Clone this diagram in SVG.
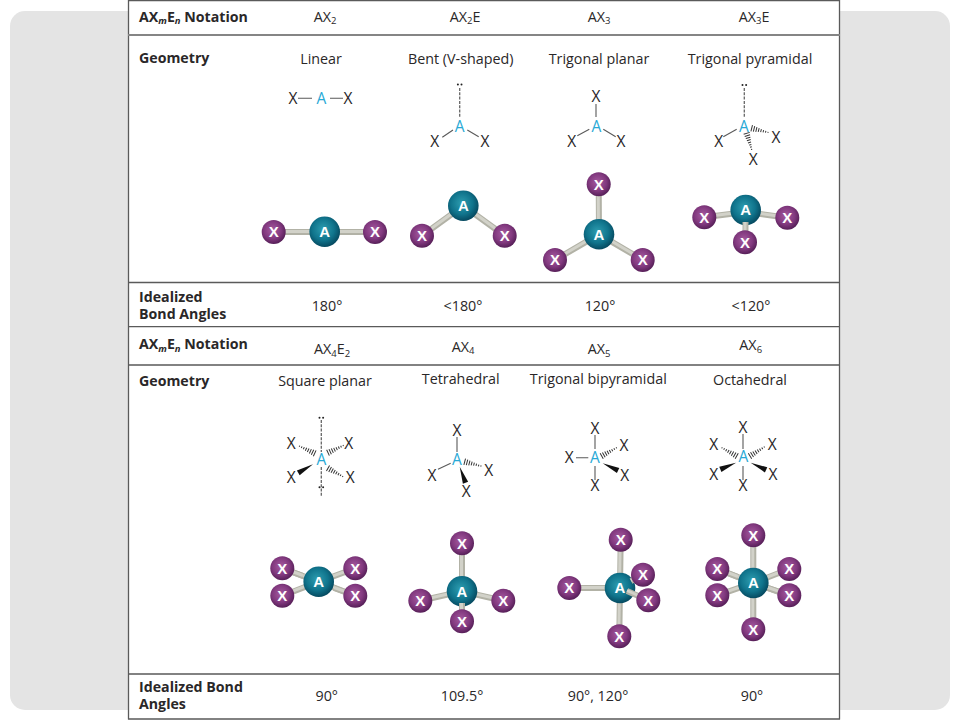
<svg xmlns="http://www.w3.org/2000/svg" xmlns:xlink="http://www.w3.org/1999/xlink" width="960" height="720" viewBox="0 0 960 720">
<style>
text{font-family:"Open Sans","Noto Sans","Liberation Sans",sans-serif;fill:#2a2728}
.h{font-size:14.200px;font-weight:700}
.c{font-size:14.300px;text-anchor:middle}
.s{font-size:9.500px}
.l{font-size:15.500px;text-anchor:middle}
.la{font-size:15.500px;text-anchor:middle;fill:#29a9d6}
.ax{fill:url(#gx)}
.aa{fill:url(#ga)}
.tx{font-size:15px;font-weight:700;fill:#fff;text-anchor:middle;font-family:"Liberation Sans",sans-serif}
.b1{stroke:#b2b2a6;stroke-width:6;fill:none}
.b2{stroke:#d2d2c9;stroke-width:3;fill:none}
.ln{stroke:#5a5a5a;stroke-width:1.100;fill:none}
.dl{stroke:#666;stroke-width:1.300;stroke-dasharray:3 1.300;fill:none}
.rule{stroke:#5a5a5a;stroke-width:1.300}
.lp{fill:#222}
</style>
<defs>
<radialGradient id="ga" cx="45%" cy="42%" r="60%"><stop offset="0" stop-color="#2d9db0"/><stop offset=".6" stop-color="#10748c"/><stop offset="1" stop-color="#05465c"/></radialGradient>
<radialGradient id="gx" cx="45%" cy="42%" r="60%"><stop offset="0" stop-color="#a55a9f"/><stop offset=".6" stop-color="#82397f"/><stop offset="1" stop-color="#531d55"/></radialGradient>
<g id="hash" stroke="#333" stroke-width="1"><path d="M0-3.200V3.200M2.400-2.800V2.800M4.800-2.400V2.400M7.200-2V2M9.600-1.600V1.600M12-1.200V1.200M14.400-.9V.9M16.800-.6V.6"/></g>
<polygon id="wedge" points="0,0 17,-2.800 17,2.800" fill="#111"/>
<g id="pair"><circle class="lp" cx="-1.800" cy="0" r="1"/><circle class="lp" cx="1.800" cy="0" r="1"/></g>
</defs>
<rect width="960" height="720" fill="#fff"/>
<rect x="10" y="11" width="940" height="699" rx="15" fill="#e4e4e4"/>
<rect x="128" y="0" width="712" height="719.500" fill="#fff"/>
<g id="table">
<path class="rule" d="M128.500 0V719.500M839.500 0V719.500M128 .7H840M128 282.500H840M128 326.700H840M128 365H840M128 674H840M128 719H840"/>
<path d="M128 35H840" stroke="#858585" stroke-width="2"/>
</g>
<g id="labels">
<text class="h" x="139" y="21.500">AX<tspan class="s" font-style="italic" dy="2.500">m</tspan><tspan dy="-2.500">E</tspan><tspan class="s" font-style="italic" dy="2.500">n</tspan><tspan dy="-2.500"> Notation</tspan></text>
<text class="h" x="139" y="63">Geometry</text>
<text class="h" x="139" y="301.500">Idealized</text>
<text class="h" x="139" y="319">Bond Angles</text>
<text class="h" x="139" y="349.300">AX<tspan class="s" font-style="italic" dy="2.500">m</tspan><tspan dy="-2.500">E</tspan><tspan class="s" font-style="italic" dy="2.500">n</tspan><tspan dy="-2.500"> Notation</tspan></text>
<text class="h" x="139" y="386">Geometry</text>
<text class="h" x="139" y="691.700">Idealized Bond</text>
<text class="h" x="139" y="709.300">Angles</text>
<text class="c" x="325" y="21.500">AX<tspan class="s" dy="2.500">2</tspan></text>
<text class="c" x="465" y="21.500">AX<tspan class="s" dy="2.500">2</tspan><tspan dy="-2.500">E</tspan></text>
<text class="c" x="599" y="21.500">AX<tspan class="s" dy="2.500">3</tspan></text>
<text class="c" x="754" y="21.500">AX<tspan class="s" dy="2.500">3</tspan><tspan dy="-2.500">E</tspan></text>
<text class="c" x="321" y="64">Linear</text>
<text class="c" x="460.700" y="64">Bent (V-shaped)</text>
<text class="c" x="599" y="64">Trigonal planar</text>
<text class="c" x="750" y="64">Trigonal pyramidal</text>
<text class="c" x="327" y="311">180°</text>
<text class="c" x="463" y="311">&lt;180°</text>
<text class="c" x="600" y="311">120°</text>
<text class="c" x="751" y="311">&lt;120°</text>
<text class="c" x="332" y="354">AX<tspan class="s" dy="2.500">4</tspan><tspan dy="-2.500">E</tspan><tspan class="s" dy="2.500">2</tspan></text>
<text class="c" x="463" y="351.700">AX<tspan class="s" dy="2.500">4</tspan></text>
<text class="c" x="599" y="354">AX<tspan class="s" dy="2.500">5</tspan></text>
<text class="c" x="750.700" y="350">AX<tspan class="s" dy="2.500">6</tspan></text>
<text class="c" x="325" y="386">Square planar</text>
<text class="c" x="460.700" y="384">Tetrahedral</text>
<text class="c" x="598.300" y="384">Trigonal bipyramidal</text>
<text class="c" x="750" y="384.700">Octahedral</text>
<text class="c" x="326.700" y="701">90°</text>
<text class="c" x="462" y="701">109.5°</text>
<text class="c" x="598" y="701">90°, 120°</text>
<text class="c" x="752" y="701">90°</text>
</g>
<g id="lewis-linear">
<path class="ln" d="M298 98.300H312M330 98.300H343"/>
<text class="l" x="293" y="103.800">X</text><text class="la" x="321.300" y="103.800">A</text><text class="l" x="348" y="103.800">X</text>
</g>
<g id="lewis-bent">
<path class="dl" d="M459.700 88V118"/><path class="ln" d="M442.300 137.300L453 130M467.300 130L478.700 136.700"/>
<use xlink:href="#pair" href="#pair" x="459.700" y="84.500"/>
<text class="la" x="459.700" y="131.500">A</text><text class="l" x="434.700" y="147.200">X</text><text class="l" x="485" y="147.200">X</text>
</g>
<g id="lewis-trigonal">
<path class="ln" d="M596 104V117M577.300 135.700L589.300 129.300M603.300 129.300L615.700 136.700"/>
<text class="l" x="596" y="102.200">X</text><text class="la" x="596.300" y="131.500">A</text><text class="l" x="571.700" y="147.200">X</text><text class="l" x="621" y="147.200">X</text>
</g>
<g id="lewis-pyramidal">
<path class="dl" d="M744.300 88V117"/><path class="ln" d="M723.300 136.700L736.700 129.300"/>
<use xlink:href="#hash" href="#hash" transform="translate(751.700 128.300) rotate(14)"/>
<use xlink:href="#hash" href="#hash" transform="translate(746.700 133.300) rotate(73)"/>
<use xlink:href="#pair" href="#pair" x="744.300" y="85"/>
<text class="la" x="744" y="131.500">A</text><text class="l" x="718.700" y="147.200">X</text><text class="l" x="776" y="142.800">X</text><text class="l" x="753.300" y="164.500">X</text>
</g>
<g id="lewis-square">
<path class="dl" d="M321.300 420V452M321.300 467V496.500"/>
<use xlink:href="#hash" href="#hash" transform="translate(314.700 453.300) rotate(205)"/>
<use xlink:href="#hash" href="#hash" transform="translate(328 452.700) rotate(-25)"/>
<use xlink:href="#hash" href="#hash" transform="translate(328 468.300) rotate(29)"/>
<use xlink:href="#wedge" href="#wedge" transform="translate(313 464.300) rotate(150)"/>
<use xlink:href="#pair" href="#pair" x="321.300" y="417.700"/><use xlink:href="#pair" href="#pair" x="321.300" y="487.300"/>
<text class="la" x="321.300" y="464.800">A</text><text class="l" x="291.300" y="448.800">X</text><text class="l" x="348.700" y="448.800">X</text><text class="l" x="291.300" y="482.800">X</text><text class="l" x="350.300" y="482.800">X</text>
</g>
<g id="lewis-tetrahedral">
<path class="ln" d="M457 437V452M438 469.300L450.700 463.300"/>
<use xlink:href="#hash" href="#hash" transform="translate(464.700 461.700) rotate(15)"/>
<use xlink:href="#wedge" href="#wedge" transform="translate(459.700 466.700) rotate(70)"/>
<text class="l" x="457" y="435.500">X</text><text class="la" x="457" y="464.800">A</text><text class="l" x="432" y="480.500">X</text><text class="l" x="488.700" y="476.200">X</text><text class="l" x="466.300" y="497.200">X</text>
</g>
<g id="lewis-bipyramidal">
<path class="ln" d="M595 435V449M595 466V480M576 457.700H588.300"/>
<use xlink:href="#hash" href="#hash" transform="translate(601.700 456) rotate(-29)"/>
<use xlink:href="#wedge" href="#wedge" transform="translate(602.700 463.300) rotate(25)"/>
<text class="l" x="595" y="433.800">X</text><text class="la" x="595" y="463.200">A</text><text class="l" x="595" y="491.200">X</text><text class="l" x="569.300" y="463.200">X</text><text class="l" x="624" y="450.500">X</text><text class="l" x="624.700" y="480.500">X</text>
</g>
<g id="lewis-octahedral">
<path class="ln" d="M743 434V449M743 466V480"/>
<use xlink:href="#hash" href="#hash" transform="translate(736.700 456) rotate(209)"/>
<use xlink:href="#hash" href="#hash" transform="translate(750 456) rotate(-32)"/>
<use xlink:href="#wedge" href="#wedge" transform="translate(736 462.700) rotate(157)"/>
<use xlink:href="#wedge" href="#wedge" transform="translate(750.700 462.700) rotate(25)"/>
<text class="l" x="743" y="432.800">X</text><text class="la" x="743.300" y="462.200">A</text><text class="l" x="743" y="491.200">X</text><text class="l" x="713.700" y="449.800">X</text><text class="l" x="772.300" y="449.800">X</text><text class="l" x="713.700" y="479.800">X</text><text class="l" x="773" y="479.800">X</text>
</g>
<g id="model-linear">
<path class="b1" d="M273.700 232H375"/><path class="b2" d="M273.700 231.500H375"/>
<circle class="ax" cx="273.700" cy="232" r="12"/><circle class="ax" cx="375" cy="232" r="12"/><circle class="aa" cx="324.700" cy="231.700" r="15.300"/>
<text class="tx" x="273.700" y="237.300">X</text><text class="tx" x="375" y="237.300">X</text><text class="tx" x="324.700" y="237">A</text>
</g>
<g id="model-bent">
<path class="b1" d="M422 235.700L463.300 205.700L504.700 235.700"/><path class="b2" d="M422 235.200L463.300 205.200L504.700 235.200"/>
<circle class="aa" cx="463.300" cy="205.700" r="15.300"/><circle class="ax" cx="422" cy="235.700" r="12"/><circle class="ax" cx="504.700" cy="235.700" r="12"/>
<text class="tx" x="463.300" y="211">A</text><text class="tx" x="422" y="241">X</text><text class="tx" x="504.700" y="241">X</text>
</g>
<g id="model-trigonal">
<path class="b1" d="M598.700 184.300L599 234.300M555 260L599 234.300L642.700 260"/><path class="b2" d="M598.200 184.300L598.500 234.300M555 259.500L599 233.800L642.700 259.500"/>
<circle class="ax" cx="598.700" cy="184.300" r="12"/><circle class="ax" cx="555" cy="260" r="12"/><circle class="ax" cx="642.700" cy="260" r="12"/><circle class="aa" cx="599" cy="234.300" r="15.300"/>
<text class="tx" x="598.700" y="189.600">X</text><text class="tx" x="555" y="265.300">X</text><text class="tx" x="642.700" y="265.300">X</text><text class="tx" x="599" y="239.600">A</text>
</g>
<g id="model-pyramidal">
<path class="b1" d="M704.300 217.300L745.700 212L787.300 217.700"/><path class="b2" d="M704.300 216.800L745.700 211.500L787.300 217.200"/>
<circle class="ax" cx="704.300" cy="217.300" r="12"/><circle class="ax" cx="787.300" cy="217.700" r="12"/><circle class="aa" cx="745.700" cy="210" r="15.300"/>
<path class="b1" d="M745.500 222V242" stroke-width="5"/><path class="b2" d="M745 222V242"/>
<circle class="ax" cx="745" cy="242.300" r="12"/>
<text class="tx" x="704.300" y="222.600">X</text><text class="tx" x="787.300" y="223">X</text><text class="tx" x="745.700" y="215.300">A</text><text class="tx" x="745" y="247.600">X</text>
</g>
<g id="model-square">
<path class="b1" d="M282.300 568.300L318.700 581.700L355.300 568.300M282.300 595.700L318.700 581.700L355.300 595.700"/>
<path class="b2" d="M282.300 567.800L318.700 581.200L355.300 567.800M282.300 595.200L318.700 581.200L355.300 595.200"/>
<circle class="aa" cx="318.700" cy="581.700" r="15.300"/>
<path class="b1" d="M282.300 568.300L303 576M355.300 595.700L334 588"/><path class="b2" d="M282.300 567.800L303 575.500M355.300 595.200L334 587.500"/>
<circle class="ax" cx="282.300" cy="568.300" r="12"/><circle class="ax" cx="355.300" cy="568.300" r="12"/><circle class="ax" cx="282.300" cy="595.700" r="12"/><circle class="ax" cx="355.300" cy="595.700" r="12"/>
<text class="tx" x="318.700" y="587">A</text><text class="tx" x="282.300" y="573.600">X</text><text class="tx" x="355.300" y="573.600">X</text><text class="tx" x="282.300" y="601">X</text><text class="tx" x="355.300" y="601">X</text>
</g>
<g id="model-tetrahedral">
<path class="b1" d="M462 543.300V591.300M420.300 600.700L462 591.300L503.300 600.700"/><path class="b2" d="M461.500 543.300V591.300M420.300 600.200L462 590.800L503.300 600.200"/>
<circle class="ax" cx="462" cy="543.300" r="12"/><circle class="ax" cx="420.300" cy="600.700" r="12"/><circle class="ax" cx="503.300" cy="600.700" r="12"/><circle class="aa" cx="462" cy="591.300" r="15.300"/>
<path class="b1" d="M462 603V621" stroke-width="5"/><path class="b2" d="M461.500 603V621"/>
<circle class="ax" cx="462" cy="621.300" r="12"/>
<text class="tx" x="462" y="548.600">X</text><text class="tx" x="420.300" y="606">X</text><text class="tx" x="503.300" y="606">X</text><text class="tx" x="462" y="596.600">A</text><text class="tx" x="462" y="626.600">X</text>
</g>
<g id="model-bipyramidal">
<path class="b1" d="M620.700 539.700L620 588L619.300 636.300M569.300 588H620"/><path class="b2" d="M620.200 539.700L619.500 588L618.800 636.300M569.300 587.500H620"/>
<circle class="ax" cx="620.700" cy="539.700" r="12"/><circle class="ax" cx="569.300" cy="588" r="12"/><circle class="ax" cx="619.300" cy="636.300" r="12"/><circle class="aa" cx="620" cy="588" r="15.300"/>
<path class="b1" d="M643 574.700L631 581M648.300 600.300L627 591"/><path class="b2" d="M643 574.200L631 580.500M648.300 599.800L627 590.500"/>
<circle class="ax" cx="643" cy="574.700" r="12"/><circle class="ax" cx="648.300" cy="600.300" r="12"/>
<text class="tx" x="620.700" y="545">X</text><text class="tx" x="569.300" y="593.300">X</text><text class="tx" x="619.300" y="641.600">X</text><text class="tx" x="620" y="593.300">A</text><text class="tx" x="643" y="580">X</text><text class="tx" x="648.300" y="605.600">X</text>
</g>
<g id="model-octahedral">
<path class="b1" d="M753.300 535.300V629.300M717.300 569L753.300 583L789.300 569M717.300 595.300L753.300 583L789.300 595.300"/><path class="b2" d="M752.800 535.300V629.300M717.300 568.500L753.300 582.500L789.300 568.500M717.300 594.800L753.300 582.500L789.300 594.800"/>
<circle class="aa" cx="753.300" cy="583" r="15.300"/>
<path class="b1" d="M717.300 569L738 577M789.300 595.300L768 588"/><path class="b2" d="M717.300 568.500L738 576.500M789.300 594.800L768 587.500"/>
<circle class="ax" cx="753.300" cy="535.300" r="12"/><circle class="ax" cx="753.300" cy="629.300" r="12"/><circle class="ax" cx="717.300" cy="569" r="12"/><circle class="ax" cx="789.300" cy="569" r="12"/><circle class="ax" cx="717.300" cy="595.300" r="12"/><circle class="ax" cx="789.300" cy="595.300" r="12"/>
<text class="tx" x="753.300" y="540.600">X</text><text class="tx" x="753.300" y="634.600">X</text><text class="tx" x="717.300" y="574.300">X</text><text class="tx" x="789.300" y="574.300">X</text><text class="tx" x="717.300" y="600.600">X</text><text class="tx" x="789.300" y="600.600">X</text><text class="tx" x="753.300" y="588.300">A</text>
</g>
</svg>
